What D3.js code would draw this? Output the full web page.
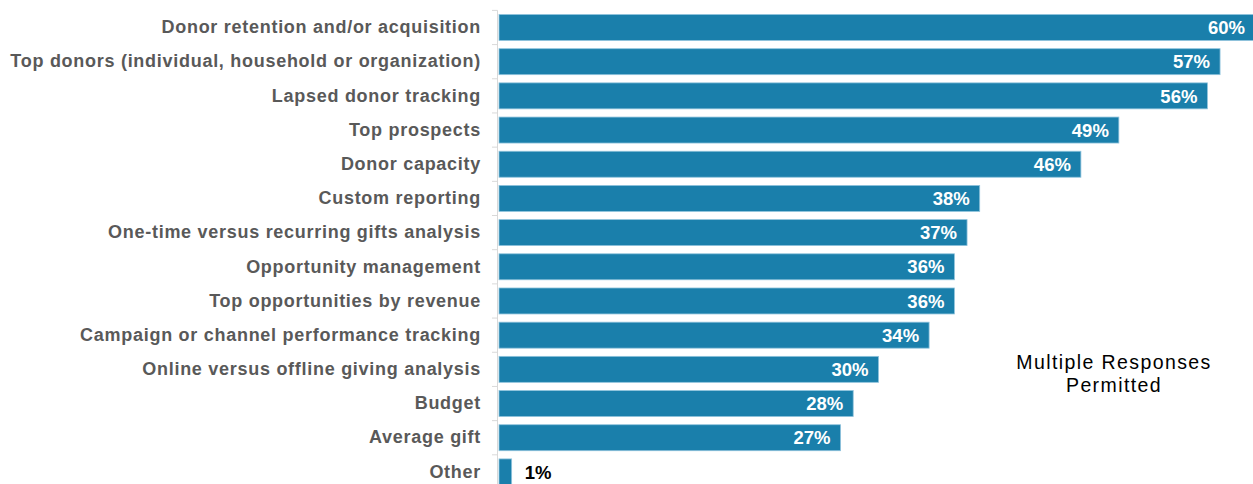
<!DOCTYPE html>
<html>
<head>
<meta charset="utf-8">
<script src="https://cdn.jsdelivr.net/npm/d3@7"></script>
<style>
  html, body { margin: 0; padding: 0; background: #fff; }
  svg { display: block; }
</style>
</head>
<body>
<svg id="chart" width="1253" height="484"></svg>
<script>
const categories = [
  "Donor retention and/or acquisition",
  "Top donors (individual, household or organization)",
  "Lapsed donor tracking",
  "Top prospects",
  "Donor capacity",
  "Custom reporting",
  "One-time versus recurring gifts analysis",
  "Opportunity management",
  "Top opportunities by revenue",
  "Campaign or channel performance tracking",
  "Online versus offline giving analysis",
  "Budget",
  "Average gift",
  "Other"
];
const values = [60, 57, 56, 49, 46, 38, 37, 36, 36, 34, 30, 28, 27, 1];
const noteLines = ["Multiple Responses", "Permitted"];

const svg = d3.select("#chart");
const W = 1253, H = 484;
const x0 = 499;
const font = "Liberation Sans, Arial, sans-serif";

const x = d3.scaleLinear().domain([0, 60]).range([x0, x0 + 60 * 12.65]);
const y = d3.scaleBand().domain(categories).range([10.4, 489]).paddingInner(0.24).paddingOuter(0.12);

// category axis with tick marks on band boundaries
const step = y.step();
const top0 = y.range()[0];
const axisG = svg.append("g");
axisG.append("line")
  .attr("x1", x0 - 1.5).attr("x2", x0 - 1.5)
  .attr("y1", top0).attr("y2", H)
  .attr("stroke", "#d9d9d9").attr("stroke-width", 1);
axisG.selectAll("line.tick")
  .data(d3.range(0, categories.length + 1))
  .join("line")
  .attr("class", "tick")
  .attr("x1", x0 - 7).attr("x2", x0 - 1.5)
  .attr("y1", i => top0 + i * step).attr("y2", i => top0 + i * step)
  .attr("stroke", "#d9d9d9").attr("stroke-width", 1);

// bars
svg.append("g").selectAll("rect")
  .data(categories)
  .join("rect")
  .attr("x", x(0))
  .attr("y", d => y(d))
  .attr("width", (d, i) => x(values[i]) - x(0))
  .attr("height", y.bandwidth())
  .attr("fill", "#1a7fab")
  .attr("stroke", "#8fc3dc")
  .attr("stroke-width", 0.8);

// category labels
svg.append("g").selectAll("text")
  .data(categories)
  .join("text")
  .attr("x", 481)
  .attr("y", d => y(d) + y.bandwidth() / 2)
  .attr("dy", "0.32em")
  .attr("text-anchor", "end")
  .attr("font-family", font)
  .attr("font-weight", "bold")
  .attr("font-size", 18)
  .attr("letter-spacing", 0.72)
  .attr("fill", "#595959")
  .text(d => d);

// value labels: inside the bar end, or just outside for very short bars
svg.append("g").selectAll("text")
  .data(categories)
  .join("text")
  .attr("x", (d, i) => values[i] < 5 ? x(values[i]) + 13 : Math.min(x(values[i]), W + 2) - 10)
  .attr("y", d => y(d) + y.bandwidth() / 2)
  .attr("dy", "0.36em")
  .attr("text-anchor", (d, i) => values[i] < 5 ? "start" : "end")
  .attr("font-family", font)
  .attr("font-weight", "bold")
  .attr("font-size", 18.5)
  .attr("fill", (d, i) => values[i] < 5 ? "#000" : "#fff")
  .text((d, i) => values[i] + "%");

// note
svg.append("g").selectAll("text")
  .data(noteLines)
  .join("text")
  .attr("x", 1114)
  .attr("y", (d, i) => 369 + i * 23)
  .attr("text-anchor", "middle")
  .attr("font-family", font)
  .attr("font-size", 19.5)
  .attr("letter-spacing", 1.4)
  .attr("fill", "#000")
  .text(d => d);
</script>
</body>
</html>
